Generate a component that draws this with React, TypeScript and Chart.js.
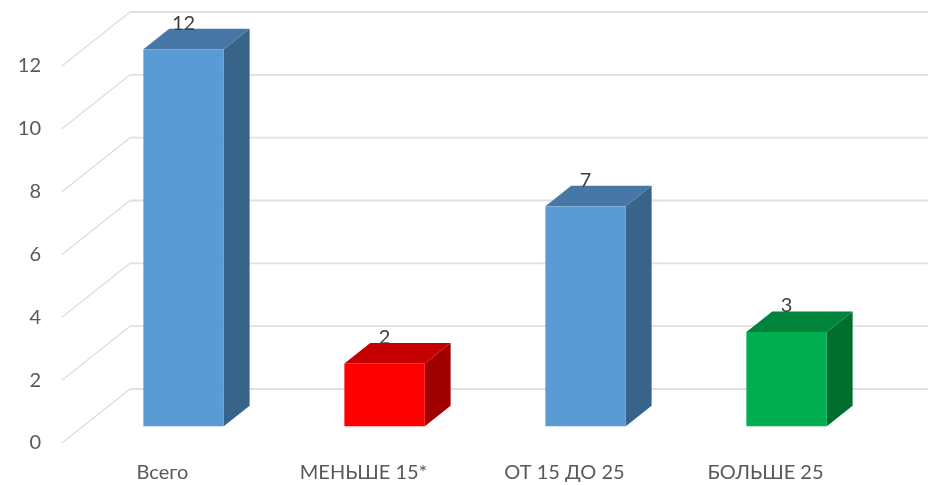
import React, { useEffect, useRef } from "react";
import { Chart, registerables } from "chart.js";

Chart.register(...registerables);

const categories = ["Всего", "МЕНЬШЕ 15*", "ОТ 15 ДО 25", "БОЛЬШЕ 25"];
const values = [12, 2, 7, 3];
const frontColors = ["#5B9BD5", "#FF0000", "#5B9BD5", "#00B050"];
const topColors = ["#4677A6", "#C40000", "#4677A6", "#00843C"];
const sideColors = ["#38638A", "#A00000", "#38638A", "#006F2E"];
const yTicks = [0, 2, 4, 6, 8, 10, 12];

const FONT = "Lato, 'Open Sans', sans-serif";
const WALL_DX = 68;
const WALL_DY = -54;
const BAR_OFF = 0.31;
const BAR_DEPTH = 0.38;

const threeD = {
  id: "threeD",
  beforeDatasetsDraw(chart: any) {
    const { ctx, chartArea, scales } = chart;
    const y = scales.y;
    ctx.save();
    y.ticks.forEach((t: any) => {
      const py = y.getPixelForValue(t.value);
      ctx.strokeStyle = "#DCDCDC";
      ctx.lineWidth = 1.2;
      ctx.beginPath();
      ctx.moveTo(chartArea.left, py);
      ctx.lineTo(chartArea.left + WALL_DX, py + WALL_DY);
      ctx.stroke();
      ctx.lineWidth = 1.8;
      ctx.strokeStyle = "#E0E0E0";
      ctx.beginPath();
      ctx.moveTo(chartArea.left + WALL_DX, py + WALL_DY);
      ctx.lineTo(chart.width, py + WALL_DY);
      ctx.stroke();
    });
    ctx.restore();
  },
  afterDatasetsDraw(chart: any) {
    const { ctx } = chart;
    const meta = chart.getDatasetMeta(0);
    const ox = WALL_DX * BAR_OFF;
    const oy = WALL_DY * BAR_OFF;
    const dx = WALL_DX * BAR_DEPTH;
    const dy = WALL_DY * BAR_DEPTH;
    ctx.save();
    meta.data.forEach((el: any, i: number) => {
      const p = el.getProps(["x", "y", "base", "width"], true);
      const l = p.x - p.width / 2 + ox;
      const r = p.x + p.width / 2 + ox;
      const t = p.y + oy;
      const b = p.base + oy;
      ctx.fillStyle = sideColors[i];
      ctx.beginPath();
      ctx.moveTo(r, t);
      ctx.lineTo(r + dx, t + dy);
      ctx.lineTo(r + dx, b + dy);
      ctx.lineTo(r, b);
      ctx.closePath();
      ctx.fill();
      ctx.fillStyle = topColors[i];
      ctx.beginPath();
      ctx.moveTo(l, t);
      ctx.lineTo(r, t);
      ctx.lineTo(r + dx, t + dy);
      ctx.lineTo(l + dx, t + dy);
      ctx.closePath();
      ctx.fill();
      ctx.fillStyle = frontColors[i];
      ctx.fillRect(l, t, r - l, b - t);
      ctx.fillStyle = "#404040";
      ctx.font = `20px ${FONT}`;
      ctx.textAlign = "center";
      ctx.textBaseline = "alphabetic";
      ctx.fillText(String(values[i]), p.x + ox, t + dy + 1);
    });
    ctx.restore();
  },
};

export default function App() {
  const ref = useRef<HTMLCanvasElement>(null);
  useEffect(() => {
    const chart = new Chart(ref.current!, {
      type: "bar",
      data: {
        labels: categories,
        datasets: [
          {
            data: values,
            backgroundColor: "rgba(0,0,0,0)",
            borderWidth: 0,
            categoryPercentage: 1,
            barPercentage: 0.4,
          },
        ],
      },
      options: {
        animation: false,
        responsive: false,
        maintainAspectRatio: false,
        layout: { padding: { left: 0, right: 62, top: 66, bottom: 0 } },
        plugins: { legend: { display: false }, tooltip: { enabled: false } },
        scales: {
          x: {
            grid: { display: false, drawTicks: false },
            border: { display: false },
            ticks: { color: "#595959", font: { family: FONT, size: 20 }, padding: 18, maxRotation: 0 },
            afterFit: (s: any) => {
              s.height = 42;
            },
          },
          y: {
            min: 0,
            max: 12,
            afterBuildTicks: (s: any) => {
              s.ticks = yTicks.map((v) => ({ value: v }));
            },
            grid: { display: false, drawTicks: false },
            border: { display: false },
            ticks: { color: "#595959", font: { family: FONT, size: 20 }, padding: 21 },
            afterFit: (s: any) => {
              s.width = 62;
            },
          },
        },
      },
      plugins: [threeD],
    });
    return () => chart.destroy();
  }, []);
  return (
    <div style={{ position: "absolute", left: 0, top: 0, width: 928, height: 485, background: "#fff" }}>
      <canvas ref={ref} width={928} height={485} style={{ width: 928, height: 485 }} />
    </div>
  );
}
